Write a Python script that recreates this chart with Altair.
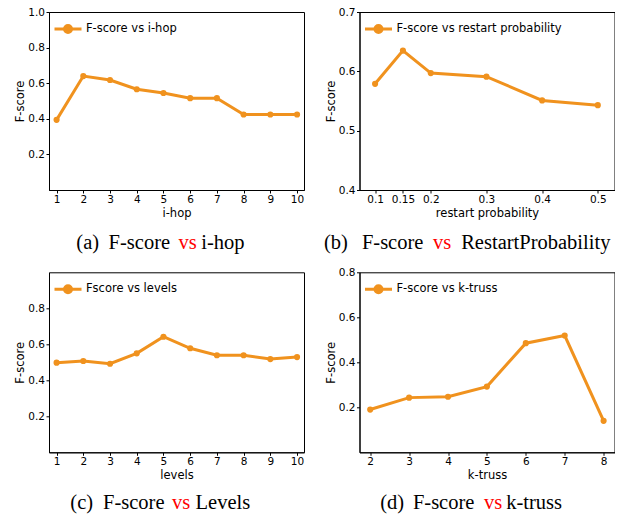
import altair as alt
import pandas as pd

ORANGE = "#F0921E"

# ---- data ----
ihop_x = [1, 2, 3, 4, 5, 6, 7, 8, 9, 10]
ihop_y = [0.394, 0.640, 0.618, 0.566, 0.545, 0.516, 0.516, 0.424, 0.424, 0.424]

rp_x = [0.1, 0.15, 0.2, 0.3, 0.4, 0.5]
rp_y = [0.579, 0.635, 0.597, 0.591, 0.551, 0.543]

lv_x = [1, 2, 3, 4, 5, 6, 7, 8, 9, 10]
lv_y = [0.498, 0.507, 0.492, 0.550, 0.642, 0.578, 0.539, 0.539, 0.518, 0.529]

kt_x = [2, 3, 4, 5, 6, 7, 8]
kt_y = [0.190, 0.243, 0.247, 0.292, 0.485, 0.519, 0.140]

series_names = ["F-score vs i-hop", "F-score vs restart probability",
                "Fscore vs levels", "F-score vs k-truss"]
x_titles = ["i-hop", "restart probability", "levels", "k-truss"]

ihop_ticks = [1, 2, 3, 4, 5, 6, 7, 8, 9, 10]
rp_ticks = [0.1, 0.15, 0.2, 0.3, 0.4, 0.5]
kt_ticks = [2, 3, 4, 5, 6, 7, 8]
y_ticks_a = [0.2, 0.4, 0.6, 0.8, 1.0]
y_ticks_b = [0.4, 0.5, 0.6, 0.7]
y_ticks_c = [0.2, 0.4, 0.6, 0.8]
y_ticks_d = [0.2, 0.4, 0.6, 0.8]

captions = [
    ["(a)", "F-score", "vs", "i-hop"],
    ["(b)", "F-score", "vs", "RestartProbability"],
    ["(c)", "F-score", "vs", "Levels"],
    ["(d)", "F-score", "vs", "k-truss"],
]
caption_colors = ["black", "black", "red", "black"]

# ---- layout (pixels) ----
W = 255
heights = [178, 178, 180, 180]
caption_x = [
    [27.3, 59.6, 129.6, 152.3],
    [-35.6, 2.4, 73.4, 101.7],
    [21.3, 54.0, 123.0, 146.6],
    [20.7, 53.4, 124.4, 146.7],
]
caption_y = [236.5, 236.5, 236.2, 236.2]
LEFT_ANCHOR = -39.7

LEGEND_PATH = ("M-1,0H1M0.26,0A0.26,0.26,0,1,1,-0.26,0"
               "A0.26,0.26,0,1,1,0.26,0Z")


def panel(i, xs, ys, xdomain, xticks, xfmt, ydomain, yticks, yfmt):
    df = pd.DataFrame({"x": xs, "y": ys, "series": [series_names[i]] * len(xs)})
    color = alt.Color(
        "series:N",
        scale=alt.Scale(range=[ORANGE]),
        legend=alt.Legend(
            title=None, orient="none", legendX=4, legendY=2,
            symbolType=LEGEND_PATH, symbolSize=729, symbolStrokeWidth=3,
            symbolFillColor=ORANGE, symbolStrokeColor=ORANGE,
            labelFont="DejaVu Sans", labelFontSize=11.5, labelColor="black",
            labelOffset=3, padding=0, labelLimit=0,
        ),
    )
    base = alt.Chart(df).encode(
        x=alt.X("x:Q",
                scale=alt.Scale(domain=xdomain, nice=False, zero=False),
                axis=alt.Axis(values=xticks, format=xfmt, title=x_titles[i])),
        y=alt.Y("y:Q",
                scale=alt.Scale(domain=ydomain, nice=False, zero=False),
                axis=alt.Axis(values=yticks, format=yfmt, title="F-score")),
        color=color,
    )
    line = base.mark_line(strokeWidth=3)
    pts = base.mark_circle(size=38, opacity=1)
    layers = [line, pts]
    for j, t in enumerate(captions[i]):
        layers.append(
            alt.Chart(pd.DataFrame({"t": [t]})).mark_text(
                align="left", baseline="alphabetic",
                font="Liberation Serif", fontSize=20.5,
                color=caption_colors[j],
            ).encode(x=alt.value(caption_x[i][j]), y=alt.value(caption_y[i]),
                     text="t:N")
        )
    if i == 0:
        # invisible layout anchor fixing the left edge of the drawing
        layers.append(
            alt.Chart(pd.DataFrame({"t": [0]})).mark_rule(
                strokeOpacity=0, strokeWidth=0.001
            ).encode(x=alt.value(LEFT_ANCHOR), x2=alt.value(LEFT_ANCHOR),
                     y=alt.value(80), y2=alt.value(90))
        )
    return alt.layer(*layers).properties(width=W, height=heights[i])


a = panel(0, ihop_x, ihop_y, [0.716, 10.26], ihop_ticks, "d", [0, 1], y_ticks_a, ".1f")
b = panel(1, rp_x, rp_y, [0.072, 0.53], rp_ticks, ".2~f", [0.4, 0.7], y_ticks_b, ".1f")
c = panel(2, lv_x, lv_y, [0.716, 10.26], ihop_ticks, "d", [0, 1], y_ticks_c, ".1f")
d = panel(3, kt_x, kt_y, [1.725, 8.28], kt_ticks, "d", [0, 0.8], y_ticks_d, ".1f")

chart = alt.concat(
    a, b, c, d, columns=2, spacing={"row": 82.3, "column": 55.5}, bounds="flush"
).resolve_scale(color="independent").resolve_legend(color="independent").properties(
    padding={"left": 0, "top": -2, "right": 0, "bottom": 0},
).configure_view(
    stroke="black", strokeWidth=1
).configure_axis(
    labelFont="DejaVu Sans", labelFontSize=10.5, labelColor="black",
    titleFont="DejaVu Sans", titleFontSize=11.5, titleFontWeight="normal",
    titleColor="black", domainColor="black", tickColor="black",
    grid=False, tickSize=3, labelPadding=1.5, titlePadding=2,
)

chart.save("out.html", embed_options={"renderer": "svg", "actions": False})
